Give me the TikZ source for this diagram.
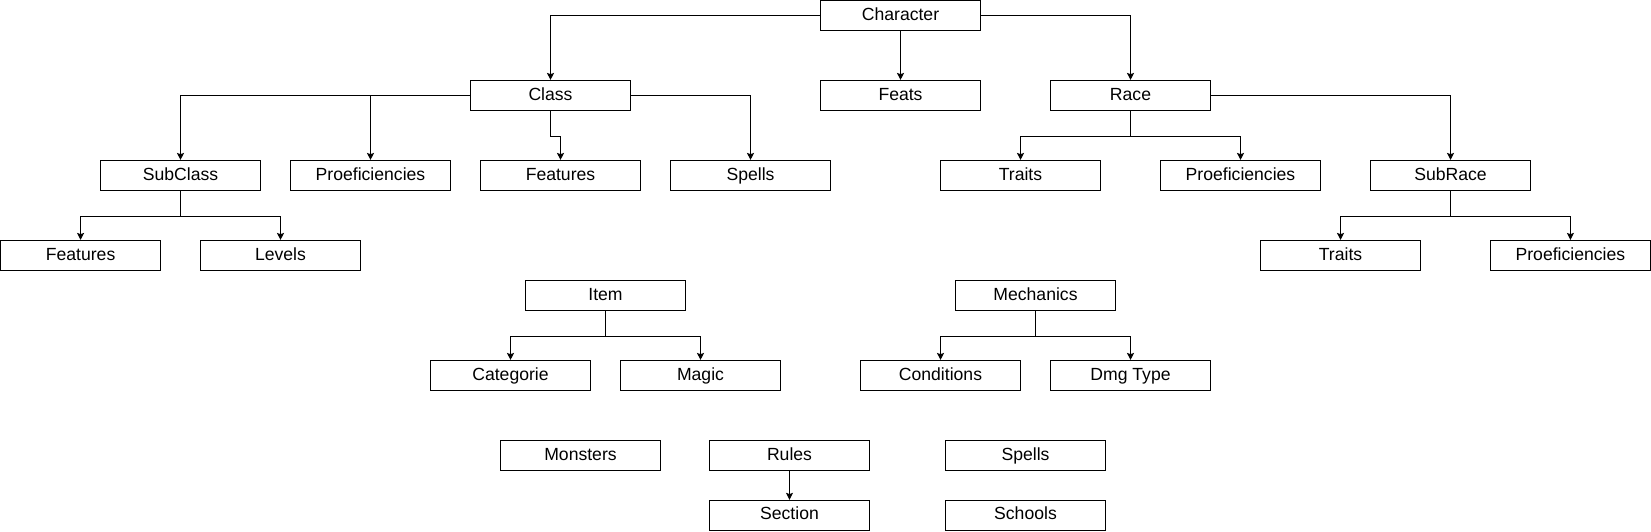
\documentclass[tikz,border=0pt]{standalone}
\usepackage{fontspec}
\setmainfont{Liberation Sans}
\usetikzlibrary{arrows.meta}
\begin{document}
\begin{tikzpicture}[x=1pt,y=-1pt,
  box/.style={draw=black,line width=1.1pt,minimum width=160pt,minimum height=30pt,inner sep=0pt,
    font=\fontsize{17.6}{20}\selectfont,text height=12.6pt,text depth=3.6pt},
  arr/.style={draw=black,line width=1.1pt,-{Stealth[length=7pt,width=7pt,inset=1.2pt]}}]
\useasboundingbox (0,0) rectangle (1651,531);
% row 1
\node[box] (char) at (900.5,15.6) {Character};
% row 2
\node[box] (class) at (550.5,95.5) {Class};
\node[box] (feats) at (900.5,95.5) {Feats};
\node[box] (race) at (1130.5,95.5) {Race};
% row 3
\node[box] (subclass) at (180.5,175.5) {SubClass};
\node[box] (profA) at (370.5,175.5) {Proeficiencies};
\node[box] (featA) at (560.5,175.5) {Features};
\node[box] (spellsA) at (750.5,175.5) {Spells};
\node[box] (traitsA) at (1020.5,175.5) {Traits};
\node[box] (profB) at (1240.5,175.5) {Proeficiencies};
\node[box] (subrace) at (1450.5,175.5) {SubRace};
% row 4
\node[box] (featB) at (80.6,255.5) {Features};
\node[box] (levels) at (280.5,255.5) {Levels};
\node[box] (traitsB) at (1340.5,255.5) {Traits};
\node[box] (profC) at (1570.4,255.5) {Proeficiencies};
% row 5
\node[box] (item) at (605.5,295.5) {Item};
\node[box] (mech) at (1035.5,295.5) {Mechanics};
% row 6
\node[box] (categ) at (510.5,375.5) {Categorie};
\node[box] (magic) at (700.5,375.5) {Magic};
\node[box] (cond) at (940.5,375.5) {Conditions};
\node[box] (dmg) at (1130.5,375.5) {Dmg Type};
% row 7
\node[box] (monsters) at (580.5,455.5) {Monsters};
\node[box] (rules) at (789.5,455.5) {Rules};
\node[box] (spellsB) at (1025.5,455.5) {Spells};
% row 8
\node[box] (section) at (789.5,515.4) {Section};
\node[box] (schools) at (1025.5,515.4) {Schools};
% connectors
\draw[arr] (char.west) -| (class.north);
\draw[arr] (char.south) -- (feats.north);
\draw[arr] (char.east) -| (race.north);
\draw[arr] (class.west) -| (subclass.north);
\draw[arr] (class.west) -| (profA.north);
\draw[arr] (class.south) -- ++(0,25) -| (featA.north);
\draw[arr] (class.east) -| (spellsA.north);
\draw[arr] (race.south) -- ++(0,25) -| (traitsA.north);
\draw[arr] (race.south) -- ++(0,25) -| (profB.north);
\draw[arr] (race.east) -| (subrace.north);
\draw[arr] (subclass.south) -- ++(0,25) -| (featB.north);
\draw[arr] (subclass.south) -- ++(0,25) -| (levels.north);
\draw[arr] (subrace.south) -- ++(0,25) -| (traitsB.north);
\draw[arr] (subrace.south) -- ++(0,25) -| (profC.north);
\draw[arr] (item.south) -- ++(0,25) -| (categ.north);
\draw[arr] (item.south) -- ++(0,25) -| (magic.north);
\draw[arr] (mech.south) -- ++(0,25) -| (cond.north);
\draw[arr] (mech.south) -- ++(0,25) -| (dmg.north);
\draw[arr] (rules.south) -- (section.north);
\end{tikzpicture}
\end{document}
